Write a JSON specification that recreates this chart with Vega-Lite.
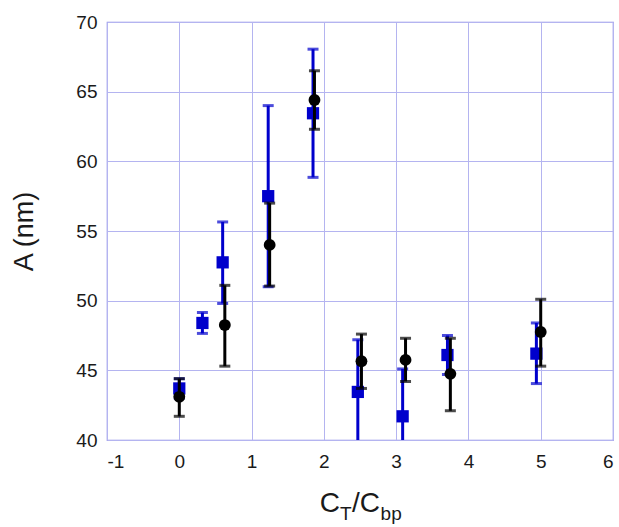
{
  "$schema": "https://vega.github.io/schema/vega-lite/v6.json",
  "autosize": {"type": "none"},
  "width": 506,
  "height": 418,
  "padding": {"left": 107, "top": 22, "right": 6, "bottom": 87},
  "background": "white",
  "config": {
    "view": {"stroke": "#8c8ce6", "strokeWidth": 1.2},
    "axis": {
      "gridColor": "#b4b4f0",
      "gridOpacity": 1,
      "gridWidth": 1,
      "domain": false,
      "ticks": false,
      "labelFont": "Liberation Sans",
      "labelFontSize": 19,
      "labelColor": "#1a1a1a",
      "titleFont": "Liberation Sans",
      "titleFontSize": 27,
      "titleFontWeight": "normal",
      "titleColor": "#1a1a1a"
    }
  },
  "datasets": {
    "pts": [
      {"series": "blue", "x": 0.0, "y": 43.7, "lo": 43.0, "hi": 44.4},
      {"series": "blue", "x": 0.32, "y": 48.4, "lo": 47.65, "hi": 49.15},
      {"series": "blue", "x": 0.6, "y": 52.75, "lo": 49.8, "hi": 55.65},
      {"series": "blue", "x": 1.23, "y": 57.5, "lo": 51.0, "hi": 64.0},
      {"series": "blue", "x": 1.85, "y": 63.45, "lo": 58.85, "hi": 68.05},
      {"series": "blue", "x": 2.47, "y": 43.45, "lo": 39.7, "hi": 47.2},
      {"series": "blue", "x": 3.09, "y": 41.7, "lo": 38.3, "hi": 45.1},
      {"series": "blue", "x": 3.71, "y": 46.1, "lo": 44.7, "hi": 47.5},
      {"series": "blue", "x": 4.94, "y": 46.2, "lo": 44.05, "hi": 48.4},
      {"series": "black", "x": 0.0, "y": 43.1, "lo": 41.7, "hi": 44.4},
      {"series": "black", "x": 0.63, "y": 48.25, "lo": 45.3, "hi": 51.1},
      {"series": "black", "x": 1.25, "y": 54.0, "lo": 51.05, "hi": 57.0},
      {"series": "black", "x": 1.87, "y": 64.4, "lo": 62.3, "hi": 66.5},
      {"series": "black", "x": 2.52, "y": 45.65, "lo": 43.7, "hi": 47.6},
      {"series": "black", "x": 3.13, "y": 45.75, "lo": 44.2, "hi": 47.3},
      {"series": "black", "x": 3.75, "y": 44.75, "lo": 42.1, "hi": 47.3},
      {"series": "black", "x": 5.0, "y": 47.75, "lo": 45.3, "hi": 50.1}
    ]
  },
  "layer": [
    {
      "data": {"name": "pts"},
      "transform": [{"filter": "datum.series === 'blue'"}],
      "layer": [
        {
          "mark": {"type": "rule", "color": "#0000cc", "strokeWidth": 3, "clip": true},
          "encoding": {
            "x": {"field": "x", "type": "quantitative", "scale": {"domain": [-1, 6], "nice": false},
              "axis": {"values": [-1, 0, 1, 2, 3, 4, 5, 6], "labelExpr": "'' + datum.value", "labelPadding": 12, "title": null}},
            "y": {"field": "lo", "type": "quantitative", "scale": {"domain": [40, 70], "nice": false},
              "axis": {"values": [40, 45, 50, 55, 60, 65, 70], "labelPadding": 10, "title": "A (nm)", "titlePadding": 37}},
            "y2": {"field": "hi"}
          }
        },
        {
          "transform": [{"filter": "datum.lo >= 40"}],
          "mark": {"type": "tick", "orient": "horizontal", "color": "#0000cc", "size": 11, "thickness": 3},
          "encoding": {"x": {"field": "x", "type": "quantitative"}, "y": {"field": "lo", "type": "quantitative"}}
        },
        {
          "mark": {"type": "tick", "orient": "horizontal", "color": "#0000cc", "size": 11, "thickness": 3},
          "encoding": {"x": {"field": "x", "type": "quantitative"}, "y": {"field": "hi", "type": "quantitative"}}
        },
        {
          "mark": {"type": "point", "shape": "square", "filled": true, "color": "#0000cc", "opacity": 1, "size": 150},
          "encoding": {"x": {"field": "x", "type": "quantitative"}, "y": {"field": "y", "type": "quantitative"}}
        }
      ]
    },
    {
      "data": {"name": "pts"},
      "transform": [{"filter": "datum.series === 'black'"}],
      "layer": [
        {
          "mark": {"type": "rule", "color": "#000000", "strokeWidth": 3, "clip": true},
          "encoding": {"x": {"field": "x", "type": "quantitative"}, "y": {"field": "lo", "type": "quantitative"}, "y2": {"field": "hi"}}
        },
        {
          "mark": {"type": "tick", "orient": "horizontal", "color": "#000000", "size": 11, "thickness": 3},
          "encoding": {"x": {"field": "x", "type": "quantitative"}, "y": {"field": "lo", "type": "quantitative"}}
        },
        {
          "mark": {"type": "tick", "orient": "horizontal", "color": "#000000", "size": 11, "thickness": 3},
          "encoding": {"x": {"field": "x", "type": "quantitative"}, "y": {"field": "hi", "type": "quantitative"}}
        },
        {
          "mark": {"type": "circle", "color": "#000000", "opacity": 1, "size": 140},
          "encoding": {"x": {"field": "x", "type": "quantitative"}, "y": {"field": "y", "type": "quantitative"}}
        }
      ]
    },
    {
      "data": {"values": [{}]},
      "mark": {"type": "text", "text": "C", "font": "Liberation Sans", "fontSize": 28, "align": "right", "baseline": "alphabetic", "dy": 72, "color": "#1a1a1a"},
      "encoding": {"x": {"datum": 2.223, "type": "quantitative"}, "y": {"datum": 40, "type": "quantitative"}}
    },
    {
      "data": {"values": [{}]},
      "mark": {"type": "text", "text": "T", "font": "Liberation Sans", "fontSize": 19, "align": "left", "baseline": "alphabetic", "dy": 80, "color": "#1a1a1a"},
      "encoding": {"x": {"datum": 2.223, "type": "quantitative"}, "y": {"datum": 40, "type": "quantitative"}}
    },
    {
      "data": {"values": [{}]},
      "mark": {"type": "text", "text": "/C", "font": "Liberation Sans", "fontSize": 28, "align": "left", "baseline": "alphabetic", "dy": 72, "color": "#1a1a1a"},
      "encoding": {"x": {"datum": 2.39, "type": "quantitative"}, "y": {"datum": 40, "type": "quantitative"}}
    },
    {
      "data": {"values": [{}]},
      "mark": {"type": "text", "text": "bp", "font": "Liberation Sans", "fontSize": 19, "align": "left", "baseline": "alphabetic", "dy": 80, "color": "#1a1a1a"},
      "encoding": {"x": {"datum": 2.785, "type": "quantitative"}, "y": {"datum": 40, "type": "quantitative"}}
    }
  ]
}
